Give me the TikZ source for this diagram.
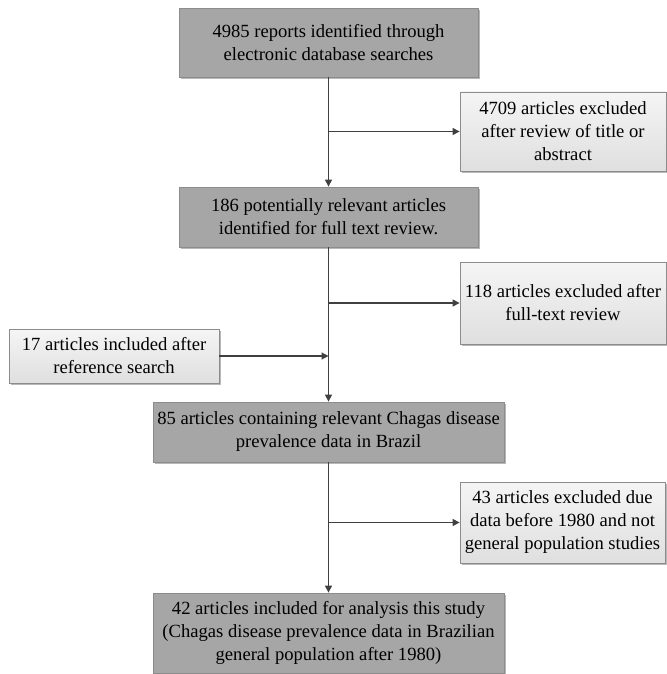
\documentclass[tikz,border=0pt]{standalone}
\usepackage{fontspec}
\setmainfont{Liberation Serif}
\usetikzlibrary{shadows,arrows.meta}
\definecolor{mainfill}{HTML}{A6A6A6}
\definecolor{edge}{HTML}{8C8C8C}
\definecolor{linec}{HTML}{404040}
\tikzset{
  base/.style={rectangle, draw=edge, line width=0.8pt, align=center, inner sep=0pt,
    font=\fontsize{18.6}{23}\selectfont, text=black,
    drop shadow={shadow xshift=1.6pt, shadow yshift=-1.6pt, fill=black!35, opacity=0.8}},
  mainbox/.style={base, fill=mainfill},
  sidebox/.style={base, top color=gray!8, bottom color=gray!25},
  conn/.style={draw=linec, line width=1.2pt, -{Triangle[length=7pt,width=7pt]}},
  plain/.style={draw=linec, line width=1.2pt}
}
\begin{document}
\begin{tikzpicture}[x=1pt,y=-1pt]
\useasboundingbox (0,0) rectangle (666,674);
\node[mainbox, minimum width=299pt, minimum height=69pt] (b1) at (328.5,42.5)
  {4985 reports identified through\\electronic database searches};
\node[sidebox, minimum width=206pt, minimum height=79pt] (b2) at (563,131.5)
  {4709 articles excluded\\after review of title or\\abstract};
\node[mainbox, minimum width=299pt, minimum height=60pt] (b3) at (328.5,217)
  {186 potentially relevant articles\\identified for full text review.};
\node[sidebox, minimum width=206pt, minimum height=82pt] (b4) at (563,303)
  {118 articles excluded after\\full-text review};
\node[sidebox, minimum width=210pt, minimum height=54pt] (b17) at (114,356)
  {17 articles included after\\reference search};
\node[mainbox, minimum width=351pt, minimum height=60pt] (b5) at (328.5,432)
  {85 articles containing relevant Chagas disease\\prevalence data in Brazil};
\node[sidebox, minimum width=205pt, minimum height=81pt] (b6) at (562.5,522.5)
  {43 articles excluded due\\data before 1980 and not\\general population studies};
\node[mainbox, minimum width=351pt, minimum height=80pt] (b7) at (328.5,633)
  {42 articles included for analysis this study\\(Chagas disease prevalence data in Brazilian\\general population after 1980)};

\coordinate (j1) at (b1.south |- b2.west);
\coordinate (j2) at (b3.south |- b4.west);
\coordinate (j3) at (b3.south |- b17.east);
\coordinate (j4) at (b5.south |- b6.west);

\draw[conn] (b1.south) -- (b3.north);
\draw[conn] (j1) -- (b2.west);
\draw[conn] (b3.south) -- (b5.north);
\draw[conn] (j2) -- (b4.west);
\draw[conn] (b17.east) -- (j3);
\draw[conn] (b5.south) -- (b7.north);
\draw[conn] (j4) -- (b6.west);
\end{tikzpicture}
\end{document}
